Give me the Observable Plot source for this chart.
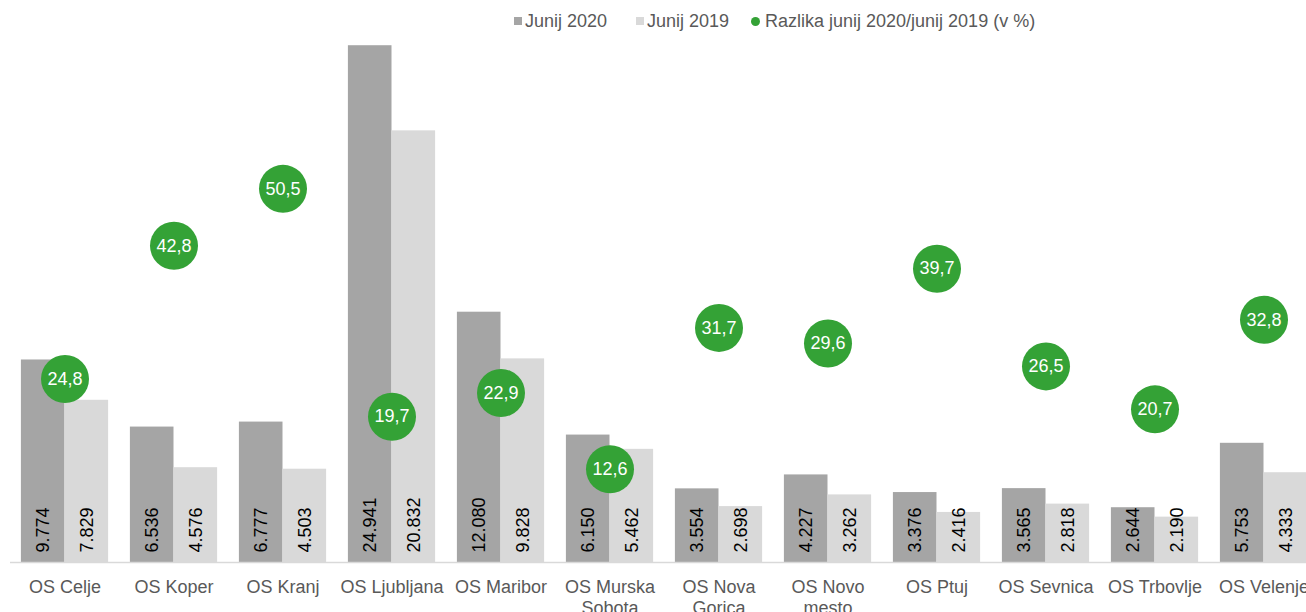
<!DOCTYPE html>
<html><head><meta charset="utf-8">
<script src="https://cdn.jsdelivr.net/npm/d3@7"></script>
<script src="https://cdn.jsdelivr.net/npm/@observablehq/plot@0.6"></script>
<style>
html,body{margin:0;padding:0;overflow:hidden;background:#fff;width:1306px;height:612px}
body{font-family:"Liberation Sans", Arial, sans-serif;position:relative}
.item{position:absolute;top:10px;height:22px;display:flex;align-items:center;font-size:18px;color:#595959;white-space:nowrap}
.sw{width:8px;height:8px;margin-right:3px}
.dot{width:9px;height:9px;border-radius:50%;margin-right:5px}
#chart{position:absolute;left:0;top:40px;width:1318px}
#chart svg{max-width:none !important}
</style></head><body>
<div id="legend"></div><div id="chart"></div>
<script>
const categories = ["OS Celje","OS Koper","OS Kranj","OS Ljubljana","OS Maribor","OS Murska Sobota","OS Nova Gorica","OS Novo mesto","OS Ptuj","OS Sevnica","OS Trbovlje","OS Velenje"];
const categoryLabels = ["OS Celje","OS Koper","OS Kranj","OS Ljubljana","OS Maribor","OS Murska\nSobota","OS Nova\nGorica","OS Novo\nmesto","OS Ptuj","OS Sevnica","OS Trbovlje","OS Velenje"];
const june2020 = [9774,6536,6777,24941,12080,6150,3554,4227,3376,3565,2644,5753];
const june2019 = [7829,4576,4503,20832,9828,5462,2698,3262,2416,2818,2190,4333];
const diffPct = [24.8,42.8,50.5,19.7,22.9,12.6,31.7,29.6,39.7,26.5,20.7,32.8];
const seriesNames = ["Junij 2020","Junij 2019","Razlika junij 2020/junij 2019 (v %)"];
const seriesColors = ["#a5a5a5","#d9d9d9","#34a236"];
const legendLeft = [514, 636, 751];

const loc = d3.formatLocale({decimal: ",", thousands: ".", grouping: [3], currency: ["", "€"]});
const fmtInt = loc.format(",d");
const fmtPct = loc.format(".1f");

const W = 1318, H = 572, ML = 10, MR = 0, MT = 4, MB = 50;
const step = (W - ML - MR) / categories.length;
const half = step * 0.8 / 2;
const yMax = 25000, pctMax = 70;
const K = yMax / pctMax;

const rows = categories.map((c, i) => ({cat: c, label: categoryLabels[i], a: june2020[i], b: june2019[i], p: diffPct[i]}));

// legend
const lg = document.getElementById("legend");
seriesNames.forEach((n, i) => {
  const it = document.createElement("div"); it.className = "item"; it.style.left = legendLeft[i] + "px";
  const s = document.createElement("div"); s.className = i === 2 ? "dot" : "sw"; s.style.background = seriesColors[i];
  const t = document.createElement("span"); t.textContent = n;
  it.appendChild(s); it.appendChild(t); lg.appendChild(it);
});

const chart = Plot.plot({
  width: W, height: H,
  marginLeft: ML, marginRight: MR, marginTop: MT, marginBottom: MB,
  style: {fontFamily: "'Liberation Sans', Arial, sans-serif", background: "transparent", maxWidth: "none"},
  x: {domain: categories, paddingInner: 0.2, paddingOuter: 0.1, round: false, axis: null},
  y: {domain: [0, yMax], axis: null},
  marks: [
    Plot.barY(rows, {x: "cat", y: "a", fill: seriesColors[0], insetRight: half}),
    Plot.barY(rows, {x: "cat", y: "b", fill: seriesColors[1], insetLeft: half}),
    Plot.ruleY([0], {stroke: "#d9d9d9", strokeWidth: 1.5}),
    Plot.text(rows, {x: "cat", text: d => fmtInt(d.a), frameAnchor: "bottom", rotate: -90, textAnchor: "start", lineAnchor: "middle", dx: -half / 2, dy: -10, fontSize: 18, fill: "#000"}),
    Plot.text(rows, {x: "cat", text: d => fmtInt(d.b), frameAnchor: "bottom", rotate: -90, textAnchor: "start", lineAnchor: "middle", dx: half / 2, dy: -10, fontSize: 18, fill: "#000"}),
    Plot.text(rows, {x: "cat", text: "label", frameAnchor: "bottom", lineAnchor: "top", dy: 16, fontSize: 18, lineHeight: 1.15, fill: "#595959"}),
    Plot.dot(rows, {x: "cat", y: d => d.p * K, r: 24, fill: seriesColors[2], stroke: null}),
    Plot.text(rows, {x: "cat", y: d => d.p * K, text: d => fmtPct(d.p), fontSize: 18, fill: "#fff"})
  ]
});
document.getElementById("chart").appendChild(chart);
</script>
</body></html>
